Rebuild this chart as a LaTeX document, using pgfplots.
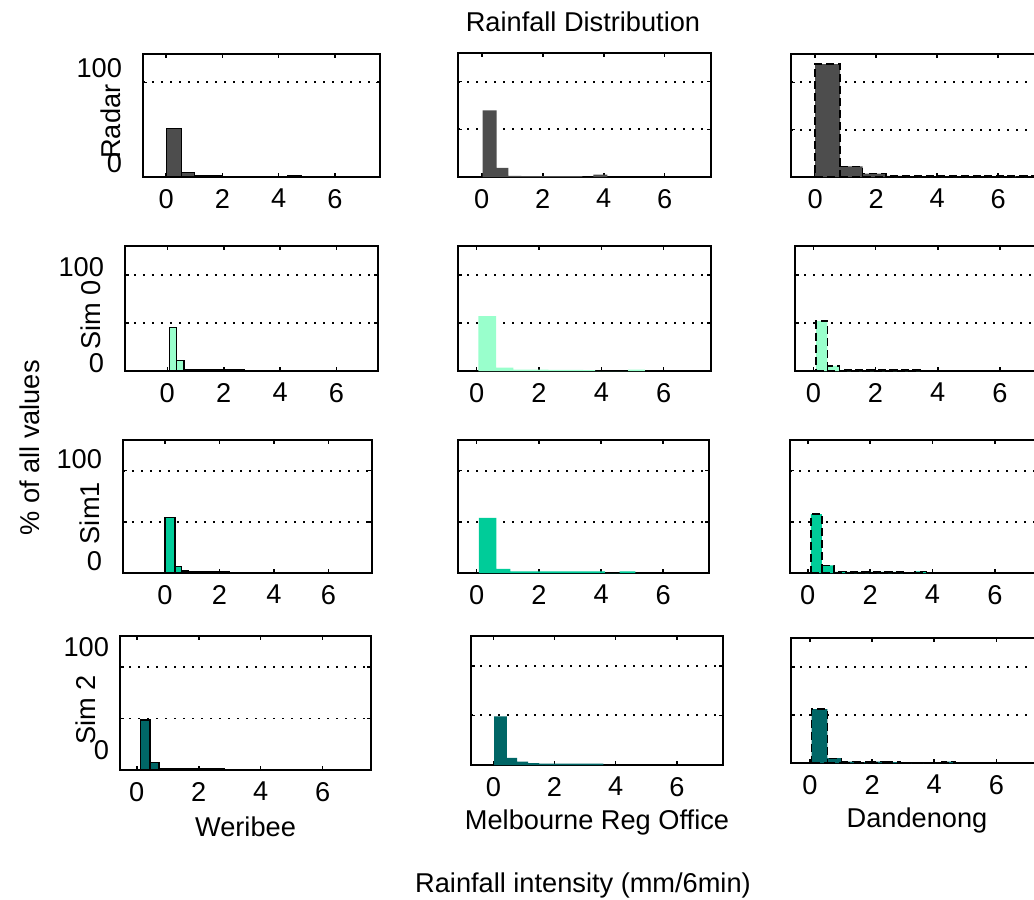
\documentclass[border=0pt]{standalone}
\usepackage{fontspec}
\setmainfont{Liberation Sans}
\usepackage{pgfplots}
\pgfplotsset{compat=1.18}
\definecolor{radar}{RGB}{77,77,77}
\definecolor{simA}{RGB}{153,255,204}
\definecolor{simB}{RGB}{0,204,153}
\definecolor{simC}{RGB}{0,102,102}
\newcommand\fs{\fontsize{13.6}{16}\selectfont}
\pgfplotsset{
 panel/.style={
  scale only axis, anchor=north west,
  ymin=0, ymax=130,
  xtick={0,2,4,6}, ytick={0,50,100},
  yticklabels={,,},
  ymajorgrids,
  grid style={black, line width=0.9pt, dash pattern=on 0.9pt off 3.6pt},
  axis line style={line width=1pt},
  tick style={black, line width=0.8pt},
  major tick length=2pt,
  tick align=inside,
  font=\fs,
  /pgf/number format/assume math mode=true,
  xticklabel style={yshift=-2.5pt},
  ylabel style={at={(axis description cs:-0.135,0.45)}, anchor=center},
  xlabel style={at={(axis description cs:0.5,0)}, anchor=center, yshift=-28.5pt},
 },
 leftcol/.style={yticklabels={0,,100}, yticklabel style={xshift=-7pt, yshift=#1}},
 colA/.style={ybar interval, fill=#1, draw=black, line width=0.6pt},
 colB/.style={ybar interval, fill=#1, draw=none},
 colC/.style={ybar interval, fill=#1, draw=black, line width=0.7pt, dash pattern=on 4pt off 2pt},
}
\begin{document}
\begin{tikzpicture}
% ---------- Row 1: Radar ----------
\begin{axis}[panel, at={(71.5pt,-27pt)}, width=118.5pt, height=61.5pt,
  xmin=-0.82, xmax=7.6, ytick={0,100}, yticklabels={0,100},
  yticklabel style={xshift=-7pt, yshift=7pt}, ylabel={Radar}]
\addplot[colA=radar] coordinates {(0.02,51.6) (0.56,5) (1.0,1) (1.5,1) (2.0,0.8) (2.5,0.8) (3.0,0.6) (3.4,0) (4.3,1.5) (4.8,0)};
\end{axis}
\begin{axis}[panel, at={(229pt,-26.5pt)}, width=126.5pt, height=62pt,
  xmin=-0.78, xmax=7.52]
\addplot[colB=radar] coordinates {(0.03,69.8) (0.49,9.6) (0.87,1.2) (1.3,1) (1.7,1) (2.1,1) (2.5,0.8) (2.9,0.8) (3.3,0) (3.66,2.4) (4.12,0)};
\end{axis}
\begin{axis}[panel, at={(395.5pt,-27pt)}, width=126.4pt, height=61.5pt,
  xmin=-0.79, xmax=7.5]
\addplot[colC=radar] coordinates {(0.0,119.3) (0.82,11.2) (1.56,3.5) (2.33,1.2) (3.1,1) (3.87,1) (4.64,1) (5.41,1) (6.18,1) (6.95,1) (7.72,0)};
\end{axis}
% ---------- Row 2: Sim 0 ----------
\begin{axis}[panel, at={(62.5pt,-123pt)}, width=126.5pt, height=62.5pt,
  xmin=-1.5, xmax=7.47, leftcol=4pt, ylabel={Sim 0}]
\addplot[colA=simA] coordinates {(-0.05,0.5) (0.07,45.6) (0.33,10.8) (0.59,1.5) (0.85,1.2) (1.11,1.2) (1.37,1.2) (1.63,1.2) (1.89,1.2) (2.15,1.2) (2.41,1) (2.72,0)};
\end{axis}
\begin{axis}[panel, at={(229pt,-123pt)}, width=126.5pt, height=62.5pt,
  xmin=-0.6, xmax=7.52]
\addplot[colB=simA] coordinates {(0.05,57) (0.62,3.5) (1.18,1.5) (1.74,1.5) (2.3,1.2) (2.86,1.2) (3.42,1) (3.8,0) (4.86,1.5) (5.4,0)};
\end{axis}
\begin{axis}[panel, at={(397.5pt,-123pt)}, width=125.75pt, height=62.5pt,
  xmin=-0.59, xmax=7.5]
\addplot[colC=simA] coordinates {(0.09,52) (0.45,5.3) (0.84,1.2) (1.21,1) (1.58,1) (1.95,1) (2.32,1) (2.69,1) (3.06,1) (3.43,0.8) (3.67,0)};
\end{axis}
% ---------- Row 3: Sim1 ----------
\begin{axis}[panel, at={(61.5pt,-220pt)}, width=124.5pt, height=66.5pt,
  xmin=-1.54, xmax=7.6, leftcol=6pt, ylabel={Sim1}]
\addplot[colA=simB] coordinates {(-0.1,0.5) (0.0,54) (0.37,6) (0.61,2) (0.86,1) (1.11,1) (1.36,1) (1.61,1) (1.86,1) (2.11,1) (2.36,0.8) (2.61,0.8) (2.76,0)};
\end{axis}
\begin{axis}[panel, at={(229pt,-220pt)}, width=125.5pt, height=66.5pt,
  xmin=-0.6, xmax=7.47]
\addplot[colB=simB] coordinates {(0.07,54) (0.63,4) (1.08,1.5) (1.58,1.5) (2.08,1.5) (2.58,1.5) (3.08,1.5) (3.58,1.5) (4.12,0) (4.6,1.5) (5.1,0)};
\end{axis}
\begin{axis}[panel, at={(395pt,-220pt)}, width=125.85pt, height=66.5pt,
  xmin=-0.57, xmax=7.5]
\addplot[colC=simB] coordinates {(0.1,57.5) (0.45,7.5) (0.84,1.2) (1.21,1) (1.58,1) (1.95,1) (2.32,1) (2.69,1) (3.06,0) (3.44,1.5) (3.81,0)};
\end{axis}
% ---------- Row 4: Sim 2 ----------
\begin{axis}[panel, at={(60pt,-318pt)}, width=125.5pt, height=67pt,
  xmin=-0.54, xmax=7.56, leftcol=10pt, yticklabel style={xshift=5pt}, ylabel={Sim 2}, xlabel={Weribee}]
\addplot[colA=simC] coordinates {(0.04,0.5) (0.13,48.6) (0.43,7.5) (0.72,1.2) (1.02,1) (1.32,1) (1.62,1) (1.92,1) (2.22,1) (2.52,1) (2.82,0.8) (3.12,0)};
\end{axis}
\begin{axis}[panel, at={(235.5pt,-318pt)}, width=126pt, height=64.5pt,
  xmin=-0.73, xmax=7.51, xlabel={Melbourne Reg Office}]
\addplot[colB=simC] coordinates {(0.03,49) (0.44,7.3) (0.78,3.3) (1.14,2) (1.5,1.5) (1.86,1.5) (2.22,1.5) (2.58,1.5) (2.94,1.5) (3.3,1.5) (3.6,0)};
\end{axis}
\begin{axis}[panel, at={(395.5pt,-319pt)}, width=126pt, height=62.5pt,
  xmin=-0.61, xmax=7.5, xlabel={Dandenong}]
\addplot[colC=simC] coordinates {(0.05,56) (0.56,5) (1.02,1.5) (1.48,1) (1.94,1.5) (2.4,1) (2.9,0) (4.23,1.5) (4.69,0)};
\end{axis}
% ---------- Global labels ----------
\node[font=\fs] at (291.5pt,-11pt) {Rainfall Distribution};
\node[font=\fs, rotate=90] at (15pt,-224pt) {\% of all values};
\node[font=\fs] at (291.5pt,-442.5pt) {Rainfall intensity (mm/6min)};
\pgfresetboundingbox
\useasboundingbox (0,0) rectangle (517pt,-450pt);
\end{tikzpicture}
\end{document}
